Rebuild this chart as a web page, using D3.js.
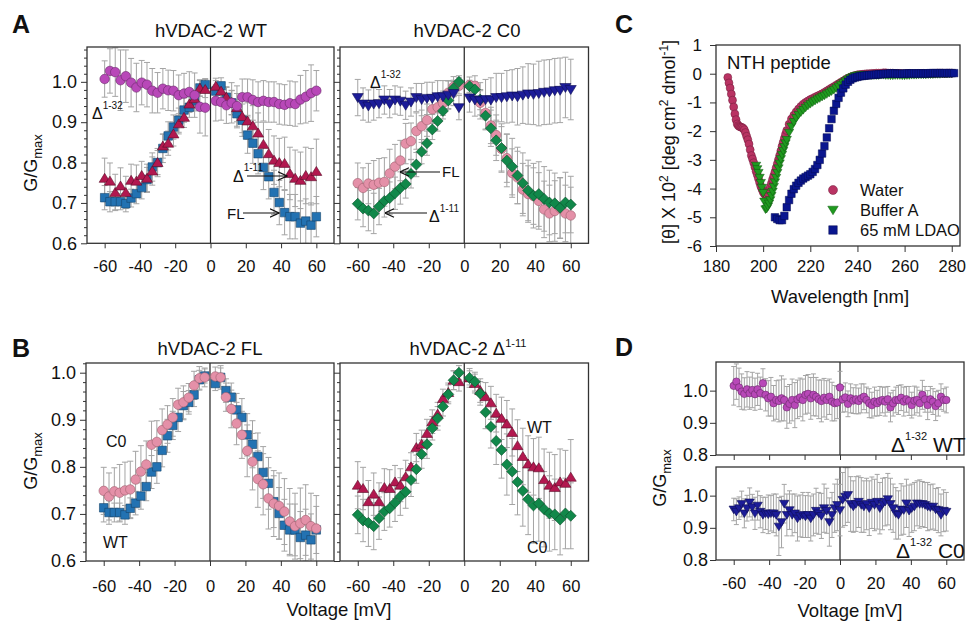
<!DOCTYPE html>
<html><head><meta charset="utf-8">
<script src="https://cdn.jsdelivr.net/npm/d3@7"></script>
<style>body{margin:0;background:#fff}</style>
</head><body>
<svg id="c" width="967" height="623"></svg>
<script>
// ---------------- DATA ----------------
const volts = [-60,-57,-54,-51,-48,-45,-42,-39,-36,-33,-30,-27,-24,-21,-18,-15,-12,-9,-6,-3,3,6,9,12,15,18,21,24,27,30,33,36,39,42,45,48,51,54,57,60];
const voltTicks = [-60,-40,-20,0,20,40,60];
const gTicksA = [0.6,0.7,0.8,0.9,1.0];
const gTicksD = [0.8,0.9,1.0];

const flWT  = [0.713,0.703,0.703,0.703,0.698,0.712,0.723,0.738,0.758,0.789,0.800,0.835,0.866,0.888,0.905,0.930,0.937,0.953,0.985,0.993,
               0.977,0.990,0.962,0.948,0.921,0.905,0.868,0.848,0.822,0.788,0.765,0.726,0.701,0.676,0.666,0.666,0.650,0.655,0.645,0.666];
const flWTe = [0.03,0.025,0.02,0.02,0.02,0.022,0.025,0.028,0.03,0.035,0.035,0.035,0.035,0.03,0.03,0.03,0.025,0.025,0.02,0.015,
               0.015,0.02,0.025,0.03,0.035,0.04,0.045,0.05,0.05,0.055,0.055,0.055,0.055,0.055,0.055,0.055,0.055,0.055,0.055,0.05];
const d11WT  = [0.761,0.754,0.726,0.742,0.726,0.756,0.754,0.768,0.761,0.779,0.800,0.841,0.848,0.871,0.896,0.912,0.945,0.958,0.984,0.981,
                0.989,0.977,0.962,0.949,0.936,0.914,0.903,0.891,0.873,0.845,0.822,0.806,0.800,0.798,0.773,0.761,0.756,0.768,0.765,0.778];
const d11WTe = [0.05,0.045,0.045,0.045,0.04,0.04,0.04,0.035,0.035,0.035,0.03,0.03,0.03,0.03,0.025,0.025,0.02,0.02,0.02,0.02,
                0.02,0.02,0.025,0.03,0.035,0.04,0.045,0.05,0.05,0.055,0.06,0.06,0.06,0.065,0.065,0.07,0.07,0.07,0.07,0.08];
const d32WT  = [1.007,1.027,1.024,1.004,1.014,0.998,0.986,0.998,0.993,0.978,0.973,0.983,0.979,0.978,0.967,0.971,0.975,0.967,0.938,0.936,
                0.953,0.950,0.942,0.948,0.940,0.962,0.962,0.955,0.950,0.953,0.950,0.950,0.945,0.943,0.947,0.945,0.956,0.963,0.972,0.978];
const d32WTe = [0.045,0.055,0.06,0.075,0.065,0.06,0.06,0.055,0.055,0.055,0.05,0.05,0.05,0.05,0.05,0.05,0.05,0.055,0.065,0.07,
                0.05,0.045,0.045,0.05,0.05,0.045,0.045,0.05,0.05,0.05,0.05,0.05,0.05,0.05,0.055,0.055,0.06,0.065,0.07,0.05];
const flC0  = [0.749,0.737,0.748,0.745,0.750,0.752,0.773,0.790,0.805,0.847,0.853,0.878,0.890,0.905,0.932,0.937,0.947,0.973,0.988,0.990,
               0.992,0.990,0.948,0.923,0.892,0.868,0.834,0.811,0.774,0.763,0.733,0.722,0.717,0.705,0.684,0.674,0.680,0.687,0.674,0.669];
const flC0e = [0.05,0.05,0.05,0.06,0.06,0.06,0.06,0.055,0.05,0.05,0.045,0.045,0.04,0.04,0.035,0.035,0.03,0.03,0.025,0.02,
               0.02,0.025,0.03,0.04,0.045,0.05,0.055,0.06,0.06,0.065,0.065,0.07,0.07,0.07,0.07,0.07,0.075,0.075,0.07,0.07];
const d11C0  = [0.698,0.686,0.681,0.674,0.691,0.705,0.712,0.724,0.737,0.747,0.772,0.795,0.827,0.848,0.882,0.903,0.928,0.954,0.984,1.000,
                0.989,0.981,0.956,0.916,0.885,0.855,0.836,0.805,0.790,0.768,0.749,0.731,0.718,0.722,0.710,0.701,0.699,0.688,0.701,0.696];
const d11C0e = [0.04,0.045,0.05,0.05,0.045,0.04,0.04,0.04,0.04,0.035,0.035,0.03,0.03,0.03,0.025,0.025,0.02,0.02,0.02,0.015,
                0.015,0.02,0.025,0.035,0.045,0.05,0.06,0.065,0.07,0.07,0.075,0.075,0.08,0.08,0.08,0.08,0.075,0.075,0.075,0.07];
const d32C0  = [0.961,0.945,0.940,0.945,0.946,0.955,0.946,0.955,0.952,0.942,0.950,0.961,0.956,0.959,0.959,0.963,0.963,0.967,0.971,0.936,
                0.960,0.955,0.953,0.956,0.955,0.961,0.961,0.963,0.965,0.963,0.967,0.970,0.969,0.971,0.974,0.975,0.978,0.979,0.986,0.981];
const d32C0e = [0.045,0.04,0.04,0.04,0.035,0.035,0.035,0.035,0.035,0.035,0.035,0.035,0.04,0.04,0.04,0.04,0.04,0.035,0.03,0.03,
                0.035,0.04,0.045,0.05,0.055,0.06,0.06,0.065,0.065,0.07,0.07,0.075,0.075,0.08,0.08,0.08,0.08,0.08,0.075,0.075];

// Panel D (1.5 mV steps)
const dVolts = [-60,-58.5,-57,-55.5,-54,-52.5,-51,-49.5,-48,-46.5,-45,-43.5,-42,-40.5,-39,-37.5,-36,-34.5,-33,-31.5,-30,-28.5,-27,-25.5,-24,-22.5,-21,-19.5,-18,-16.5,-15,-13.5,-12,-10.5,-9,-7.5,-6,-4.5,-3,-1.5,
  0,1.5,3,4.5,6,7.5,9,10.5,12,13.5,15,16.5,18,19.5,21,22.5,24,25.5,27,28.5,30,31.5,33,34.5,36,37.5,39,40.5,42,43.5,45,46.5,48,49.5,51,52.5,54,55.5,57,58.5,60];
const dWT = [1.015,1.028,1.010,0.997,0.990,1.004,0.992,1.002,0.989,1.004,
  0.992,1.023,0.987,0.976,0.981,0.961,0.971,0.968,0.976,0.971,
  0.948,0.959,0.971,0.955,0.973,0.979,0.971,0.987,0.990,0.976,
  0.987,0.981,0.973,0.968,0.978,0.971,0.981,0.966,0.961,0.963,
  1.010,
  0.973,0.979,0.959,0.976,0.969,0.973,0.968,0.976,0.981,0.971,
  0.961,0.955,0.966,0.961,0.968,0.971,0.966,0.973,0.948,0.961,
  0.971,0.971,0.978,0.966,0.973,0.968,0.955,0.969,0.971,0.961,
  0.987,0.973,0.955,0.973,0.966,0.952,0.961,0.981,0.971,0.971];
const dWTe = [0.06,0.055,0.06,0.055,0.05,0.055,0.05,0.055,0.05,0.05,
  0.05,0.045,0.05,0.055,0.06,0.055,0.06,0.065,0.07,0.065,
  0.065,0.06,0.065,0.07,0.06,0.06,0.065,0.06,0.06,0.065,
  0.065,0.06,0.06,0.065,0.06,0.06,0.055,0.06,0.055,0.05,
  0.05,
  0.04,0.045,0.04,0.045,0.04,0.045,0.04,0.045,0.04,0.04,
  0.045,0.04,0.045,0.04,0.045,0.04,0.045,0.04,0.045,0.04,
  0.04,0.045,0.04,0.045,0.04,0.045,0.04,0.045,0.04,0.04,
  0.045,0.04,0.045,0.04,0.04,0.045,0.04,0.04,0.035,0.04];
const dC0 = [0.957,0.950,0.961,0.974,0.945,0.961,0.979,0.964,0.945,0.969,
  0.950,0.940,0.945,0.942,0.945,0.945,0.940,0.904,0.918,0.975,
  0.940,0.955,0.940,0.945,0.929,0.937,0.940,0.935,0.940,0.929,
  0.940,0.953,0.945,0.937,0.961,0.953,0.918,0.940,0.961,0.971,
  0.955,
  0.987,0.997,1.002,0.974,0.966,0.974,0.981,0.971,0.966,0.974,
  0.961,0.978,0.971,0.981,0.961,0.974,0.981,0.989,0.974,0.961,
  0.945,0.940,0.957,0.955,0.976,0.953,0.961,0.966,0.976,0.974,
  0.974,0.971,0.966,0.964,0.966,0.957,0.955,0.940,0.953,0.950];
const dC0e = [0.035,0.04,0.035,0.04,0.045,0.04,0.045,0.04,0.05,0.045,
  0.05,0.055,0.05,0.06,0.055,0.06,0.065,0.09,0.08,0.06,
  0.065,0.06,0.065,0.06,0.07,0.065,0.07,0.065,0.07,0.07,
  0.065,0.07,0.065,0.07,0.075,0.07,0.075,0.07,0.075,0.08,
  0.08,
  0.085,0.09,0.085,0.085,0.08,0.085,0.08,0.085,0.08,0.08,
  0.085,0.08,0.08,0.085,0.08,0.08,0.075,0.08,0.08,0.075,
  0.08,0.075,0.08,0.075,0.075,0.08,0.075,0.075,0.07,0.075,
  0.07,0.07,0.075,0.07,0.07,0.065,0.07,0.065,0.065,0.06];

// Panel C: CD spectra (0.5 nm sampling in the steep band, 1 nm after)
const waterNm  = [...d3.range(185, 210.25, 0.5), ...d3.range(211, 281, 1)];
const bufferNm = [...d3.range(197, 210.25, 0.5), ...d3.range(211, 281, 1)];
const ldaoNm   = d3.range(205, 282, 1);
const water = [-0.13,-0.32,-0.50,-0.71,-0.92,-1.16,-1.40,-1.60,-1.75,-1.81,
  -1.84,-1.86,-1.87,-1.90,-1.95,-2.05,-2.18,-2.30,-2.45,-2.65,
  -2.85,-2.97,-3.10,-3.25,-3.40,-3.52,-3.65,-3.79,-3.92,-4.02,
  -4.12,-4.18,-4.22,-4.20,-4.15,-4.06,-3.95,-3.82,-3.68,-3.55,
  -3.42,-3.28,-3.14,-3.00,-2.85,-2.69,-2.53,-2.39,-2.25,-2.11,
  -1.98,
  -1.76,-1.58,-1.45,-1.33,-1.23,-1.14,-1.06,-1.00,-0.95,-0.90,
  -0.86,-0.82,-0.78,-0.74,-0.70,-0.65,-0.60,-0.55,-0.50,-0.45,
  -0.40,-0.35,-0.30,-0.25,-0.20,-0.16,-0.12,-0.09,-0.06,-0.04,
  -0.03,-0.02,-0.01,0.00,0.00,0.01,0.01,0.02,0.02,0.02,
  0.03,0.03,0.02,0.02,0.02,0.01,0.01,0.01,0.00,0.00,
  0.01,0.01,0.00,0.00,0.00,0.01,0.01,0.01,0.00,0.00,
  0.01,0.01,0.01,0.02,0.02,0.02,0.01,0.02,0.02,0.02];
const buffer = [-3.20,-3.32,-3.45,-3.62,-3.80,-3.97,-4.15,-4.45,-4.72,-4.70,
  -4.62,-4.52,-4.40,-4.25,-4.10,-3.94,-3.78,-3.62,-3.45,-3.29,
  -3.12,-2.97,-2.82,-2.68,-2.55,-2.42,-2.30,
  -2.05,-1.84,-1.68,-1.54,-1.43,-1.34,-1.26,-1.18,-1.11,-1.05,
  -0.99,-0.94,-0.89,-0.85,-0.80,-0.76,-0.71,-0.66,-0.61,-0.56,
  -0.50,-0.44,-0.38,-0.32,-0.26,-0.20,-0.15,-0.11,-0.08,-0.06,
  -0.05,-0.05,-0.04,-0.04,-0.04,-0.05,-0.05,-0.05,-0.05,-0.04,
  -0.04,-0.05,-0.05,-0.06,-0.06,-0.05,-0.05,-0.05,-0.06,-0.06,
  -0.05,-0.05,-0.04,-0.04,-0.04,-0.03,-0.03,-0.03,-0.03,-0.02,
  -0.02,-0.02,-0.01,-0.01,-0.01,0.00,0.00,0.00,0.01,0.01];
const ldao = [-5.00,-5.06,-5.10,-5.10,-4.95,-4.65,-4.40,-4.18,-4.02,-3.90,
  -3.80,-3.72,-3.65,-3.60,-3.55,-3.50,-3.42,-3.32,-3.18,-3.00,
  -2.78,-2.52,-2.22,-1.90,-1.58,-1.29,-1.05,-0.84,-0.66,-0.51,
  -0.38,-0.28,-0.21,-0.16,-0.13,-0.11,-0.09,-0.08,-0.07,-0.06,
  -0.05,-0.04,-0.04,-0.03,-0.02,-0.02,-0.01,0.00,0.00,0.01,
  0.01,0.01,0.00,0.00,0.00,0.00,0.01,0.01,0.01,0.01,
  0.01,0.01,0.01,0.01,0.01,0.01,0.02,0.02,0.02,0.02,
  0.02,0.02,0.02,0.02,0.02,0.02,0.02];
const cdYTicks = [1,0,-1,-2,-3,-4,-5,-6];
const cdXTicks = [180,200,220,240,260,280];
const legendLabels = ["Water","Buffer A","65 mM LDAO"];

// ---------------- STYLES ----------------
const FONT = '"Liberation Sans", Arial, Helvetica, sans-serif';
const COL = {
  d32WT:["#b848b8","#6a2a6a"], d11WT:["#b2184f","#5a0c28"], flWT:["#2372b2","#15456b"],
  flC0:["#e490a8","#a0606f"], d11C0:["#11884a","#0a4d2a"], d32C0:["#1c1c98","#0e0e55"],
  water:["#b93363","#6e1c3a"], buffer:["#1f9a1f","#0f560f"], ldao:["#0a168f","#050b50"]
};

const svg = d3.select("#c");
const defs = svg.append("defs");
defs.append("marker").attr("id","arr").attr("viewBox","0 0 10 10").attr("refX",9.5).attr("refY",5)
  .attr("markerWidth",10).attr("markerHeight",10).attr("markerUnits","userSpaceOnUse").attr("orient","auto")
  .append("path").attr("d","M0.5,0.8L9.5,5L0.5,9.2").attr("fill","none").attr("stroke","#111").attr("stroke-width",1.2);

function shapePath(shape, s) {
  const h = s/2;
  switch (shape) {
    case "circle": return `M${h},0A${h},${h} 0 1,1 ${-h},0A${h},${h} 0 1,1 ${h},0Z`;
    case "square": return `M${-h},${-h}H${h}V${h}H${-h}Z`;
    case "triUp": return `M0,${-h}L${h*1.1},${h*0.8}L${-h*1.1},${h*0.8}Z`;
    case "triDown": return `M0,${h}L${h*1.1},${-h*0.8}L${-h*1.1},${-h*0.8}Z`;
    case "diamond": return `M0,${-h}L${h},0L0,${h}L${-h},0Z`;
  }
}

function rich(parent, x, y, parts, opt = {}) {
  const t = parent.append("text").attr("font-family",FONT).attr("fill","#111")
    .attr("font-size",opt.size || 16).attr("text-anchor",opt.anchor || "start");
  if (opt.bold) t.attr("font-weight","bold");
  if (opt.rotate) t.attr("transform",`translate(${x},${y}) rotate(-90)`);
  else t.attr("x",x).attr("y",y);
  let cur = 0;
  parts.forEach(p => {
    const ts = t.append("tspan").text(p.t);
    if (p.size) ts.attr("font-size",p.size);
    const target = p.shift || 0;
    if (target !== cur) { ts.attr("dy", target - cur); cur = target; }
  });
  return t;
}

let clipN = 0;
function styleAxis(sel, size) {
  sel.select(".domain").remove();
  sel.selectAll(".tick line").attr("stroke","#333").attr("stroke-width",1);
  sel.selectAll(".tick text").attr("font-family",FONT).attr("font-size",size).attr("fill","#111");
}

function voltagePanel(p) {
  const x = d3.scaleLinear().domain([-70,70]).range([p.x0,p.x1]);
  const y = d3.scaleLinear().domain(p.yDomain).range([p.y1,p.y0]);
  const g = svg.append("g");
  if (p.minor) {
    g.append("g").attr("transform",`translate(${p.x0},0)`)
      .call(d3.axisLeft(y).tickValues(p.minor).tickSize(3).tickFormat(""))
      .call(s => styleAxis(s, 16));
  }
  g.append("g").attr("transform",`translate(${p.x0},0)`)
    .call(d3.axisLeft(y).tickValues(p.yTicks).tickSize(6).tickPadding(p.yPad)
      .tickFormat(p.yLabels ? d => d.toFixed(1) : ""))
    .call(s => styleAxis(s, 18));
  g.append("g").attr("transform",`translate(0,${p.y1})`)
    .call(d3.axisBottom(x).tickValues(voltTicks).tickSize(5).tickPadding(p.xPad)
      .tickFormat(p.xLabels ? d => String(d) : ""))
    .call(s => styleAxis(s, 16.5));
  const id = "clip" + (clipN++);
  defs.append("clipPath").attr("id",id).append("rect")
    .attr("x",p.x0).attr("y",p.y0).attr("width",p.x1-p.x0).attr("height",p.y1-p.y0);
  const pg = g.append("g").attr("clip-path",`url(#${id})`);
  pg.append("line").attr("x1",x(0)).attr("x2",x(0)).attr("y1",p.y0).attr("y2",p.y1)
    .attr("stroke","#222").attr("stroke-width",1.2);
  const cap = p.cap || 3;
  p.series.forEach(s => {
    const eg = pg.append("g").attr("stroke","#a4a4a4").attr("stroke-width",1).attr("fill","none");
    eg.selectAll("path").data(s.y).join("path").attr("d",(d,i) => {
      const cx = x(s.x[i]), yt = y(d + s.e[i]), yb = y(d - s.e[i]);
      return `M${cx},${yt}V${yb}M${cx-cap},${yt}H${cx+cap}M${cx-cap},${yb}H${cx+cap}`;
    });
  });
  p.series.forEach(s => {
    pg.append("g").selectAll("path").data(s.y).join("path")
      .attr("d",shapePath(s.shape,s.size))
      .attr("transform",(d,i) => `translate(${x(s.x[i])},${y(d)})`)
      .attr("fill",s.col[0]).attr("stroke",s.col[1]).attr("stroke-width",0.6);
  });
  g.append("rect").attr("x",p.x0).attr("y",p.y0).attr("width",p.x1-p.x0).attr("height",p.y1-p.y0)
    .attr("fill","none").attr("stroke","#333").attr("stroke-width",1.3);
  return {x,y,g};
}

const minorA = d3.range(0.62,1.09,0.02).filter(v => Math.abs(v*10-Math.round(v*10))>0.01);
const minorB = d3.range(0.62,1.021,0.02).filter(v => Math.abs(v*10-Math.round(v*10))>0.01);

const S = (y,e,shape,col,size) => ({x:volts,y,e,shape,col,size});

// ---- Panel A ----
voltagePanel({x0:87,x1:334,y0:47,y1:243.3,yDomain:[0.6,1.0863],yTicks:gTicksA,minor:minorA,yLabels:true,xLabels:true,yPad:4,xPad:12,
  series:[S(flWT,flWTe,"square",COL.flWT,8.5),S(d11WT,d11WTe,"triUp",COL.d11WT,10),S(d32WT,d32WTe,"circle",COL.d32WT,9.5)]});
voltagePanel({x0:340,x1:588.5,y0:47,y1:243.3,yDomain:[0.6,1.0863],yTicks:gTicksA,minor:minorA,yLabels:false,xLabels:true,yPad:4,xPad:12,
  series:[S(flC0,flC0e,"circle",COL.flC0,9.5),S(d11C0,d11C0e,"diamond",COL.d11C0,11),S(d32C0,d32C0e,"triDown",COL.d32C0,10)]});
// ---- Panel B ----
voltagePanel({x0:86,x1:334,y0:363,y1:561,yDomain:[0.6,1.0206],yTicks:gTicksA,minor:minorB,yLabels:true,xLabels:true,yPad:4,xPad:14,
  series:[S(flWT,flWTe,"square",COL.flWT,8.5),S(flC0,flC0e,"circle",COL.flC0,9.5)]});
voltagePanel({x0:340,x1:588.5,y0:363,y1:561,yDomain:[0.6,1.0206],yTicks:gTicksA,minor:minorB,yLabels:false,xLabels:true,yPad:4,xPad:14,
  series:[S(d11WT,d11WTe,"triUp",COL.d11WT,10),S(d11C0,d11C0e,"diamond",COL.d11C0,11)]});
// ---- Panel D ----
voltagePanel({x0:716,x1:964,y0:362,y1:455,yDomain:[0.8,1.089],yTicks:gTicksD,yLabels:true,xLabels:false,yPad:2,xPad:12,cap:2.5,
  series:[{x:dVolts,y:dWT,e:dWTe,shape:"circle",col:COL.d32WT,size:7.5}]});
voltagePanel({x0:716,x1:964,y0:467,y1:560,yDomain:[0.8,1.089],yTicks:gTicksD,yLabels:true,xLabels:true,yPad:2,xPad:12,cap:2.5,
  series:[{x:dVolts,y:dC0,e:dC0e,shape:"triDown",col:COL.d32C0,size:8.5}]});

// ---- Panel C ----
(function(){
  const x = d3.scaleLinear().domain([180,283.5]).range([716,960]);
  const y = d3.scaleLinear().domain([-6,1]).range([246,45]);
  const g = svg.append("g");
  g.append("g").attr("transform","translate(716,0)")
    .call(d3.axisLeft(y).tickValues(cdYTicks).tickSize(6).tickPadding(8).tickFormat(d => String(d)))
    .call(s => styleAxis(s,17));
  g.append("g").attr("transform","translate(0,246)")
    .call(d3.axisBottom(x).tickValues(cdXTicks).tickSize(6).tickPadding(8).tickFormat(d => String(d)))
    .call(s => styleAxis(s,16.5));
  const sets = [
    {nm:waterNm, v:water, shape:"circle", col:COL.water, size:8},
    {nm:bufferNm, v:buffer, shape:"triDown", col:COL.buffer, size:8.5},
    {nm:ldaoNm, v:ldao, shape:"square", col:COL.ldao, size:7.5}
  ];
  sets.forEach(s => {
    g.append("g").selectAll("path").data(s.v).join("path")
      .attr("d",shapePath(s.shape,s.size))
      .attr("transform",(d,i) => `translate(${x(s.nm[i])},${y(d)})`)
      .attr("fill",s.col[0]).attr("stroke",s.col[1]).attr("stroke-width",0.5);
  });
  g.append("rect").attr("x",716).attr("y",45).attr("width",244).attr("height",201)
    .attr("fill","none").attr("stroke","#333").attr("stroke-width",1.3);
  // legend
  sets.forEach((s,i) => {
    g.append("path").attr("d",shapePath(s.shape,s.size+1)).attr("transform",`translate(833,${190+i*20})`)
      .attr("fill",s.col[0]).attr("stroke",s.col[1]).attr("stroke-width",0.5);
    g.append("text").attr("x",860).attr("y",196+i*20).attr("font-family",FONT).attr("font-size",16.5)
      .attr("fill","#111").text(legendLabels[i]);
  });
  rich(g,727,69,[{t:"NTH peptide"}],{size:18.5});
})();

// ---------------- TEXT ----------------
const T = svg.append("g");
rich(T,12,33,[{t:"A"}],{size:25,bold:true});
rich(T,12,357,[{t:"B"}],{size:25,bold:true});
rich(T,615,33,[{t:"C"}],{size:25,bold:true});
rich(T,615,356,[{t:"D"}],{size:25,bold:true});

rich(T,211,37,[{t:"hVDAC-2 WT"}],{size:18.5,anchor:"middle"});
rich(T,467,37,[{t:"hVDAC-2 C0"}],{size:18.5,anchor:"middle"});
rich(T,210,355,[{t:"hVDAC-2 FL"}],{size:18.5,anchor:"middle"});
rich(T,468,355,[{t:"hVDAC-2 Δ"},{t:"1-11",size:11,shift:-8}],{size:18.5,anchor:"middle"});

// y axis titles
rich(T,37,163,[{t:"G/G"},{t:"max",size:13,shift:5}],{size:18,anchor:"middle",rotate:true});
rich(T,37,461,[{t:"G/G"},{t:"max",size:13,shift:5}],{size:18,anchor:"middle",rotate:true});
rich(T,666,478,[{t:"G/G"},{t:"max",size:13,shift:5}],{size:18,anchor:"middle",rotate:true});
rich(T,675,142,[{t:"[θ] X 10"},{t:"2",size:12,shift:-7},{t:" [deg cm",shift:0},{t:"2",size:12,shift:-7},{t:" dmol",shift:0},{t:"-1",size:12,shift:-7},{t:"]",shift:0}],{size:18,anchor:"middle",rotate:true});

// x axis titles
rich(T,339,616,[{t:"Voltage [mV]"}],{size:18.5,anchor:"middle"});
rich(T,850,617,[{t:"Voltage [mV]"}],{size:18.5,anchor:"middle"});
rich(T,840,303,[{t:"Wavelength [nm]"}],{size:18.5,anchor:"middle"});

// annotations panel A
rich(T,92,119,[{t:"Δ"},{t:"1-32",size:10,shift:-10}],{size:16});
rich(T,233,182,[{t:"Δ"},{t:"1-11",size:10,shift:-11}],{size:16});
rich(T,227,219,[{t:"FL"}],{size:15});
rich(T,370,88,[{t:"Δ"},{t:"1-32",size:10,shift:-10}],{size:16});
rich(T,442,177,[{t:"FL"}],{size:15});
rich(T,429,222,[{t:"Δ"},{t:"1-11",size:10,shift:-10}],{size:16});
const arrows = [[247,176,287,176],[243,213,279,213],[440,172,400,172],[427,213,385,213]];
arrows.forEach(a => T.append("line").attr("x1",a[0]).attr("y1",a[1]).attr("x2",a[2]).attr("y2",a[3])
  .attr("stroke","#111").attr("stroke-width",1.2).attr("marker-end","url(#arr)"));
// panel B
rich(T,106,447,[{t:"C0"}],{size:16});
rich(T,103,548,[{t:"WT"}],{size:16});
rich(T,527,433,[{t:"WT"}],{size:16});
rich(T,527,553,[{t:"C0"}],{size:16});
// panel D
rich(T,891,452,[{t:"Δ"},{t:"1-32",size:11,shift:-12},{t:" WT",shift:0}],{size:21});
rich(T,896,558,[{t:"Δ"},{t:"1-32",size:11,shift:-12},{t:" C0",shift:0}],{size:21});
</script>
</body></html>
